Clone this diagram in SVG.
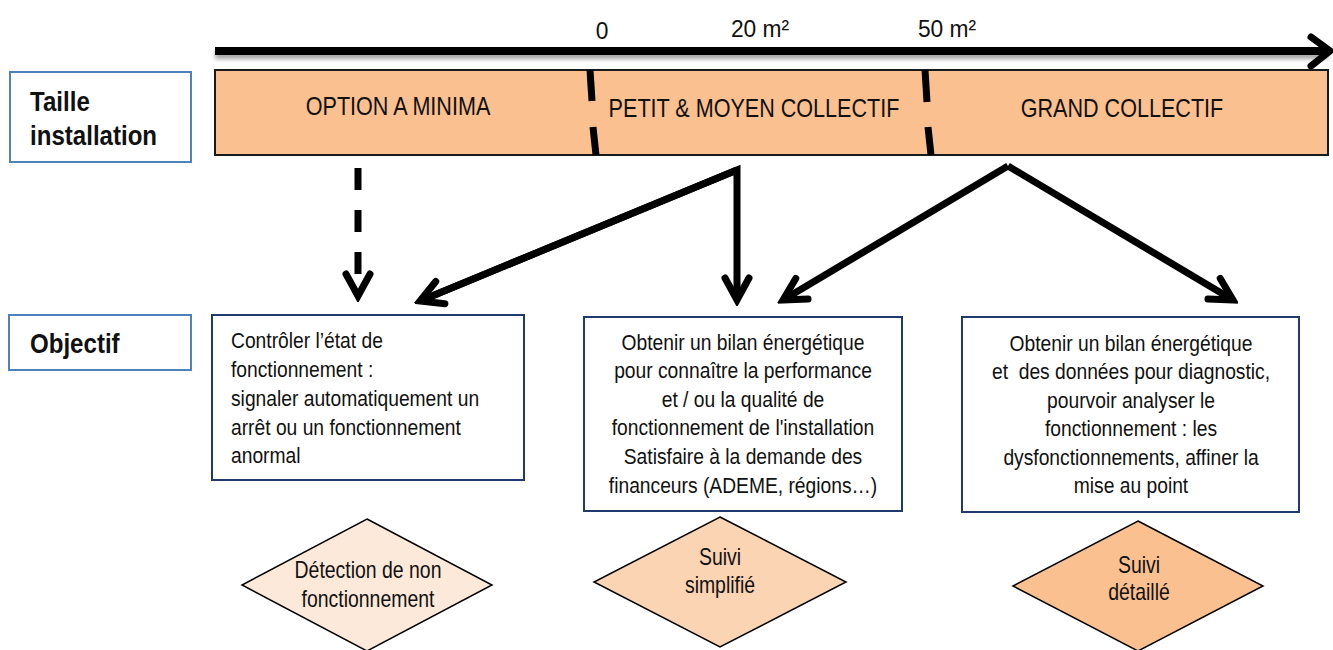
<svg xmlns="http://www.w3.org/2000/svg" width="1333" height="650" viewBox="0 0 1333 650">
<style>
text{font-family:"Liberation Sans",Arial,sans-serif;fill:#111;}
.lbl{font-size:28px;font-weight:bold;}
.band{font-size:26px;}
.scale{font-size:24px;}
.box{font-size:22px;}
.dia{font-size:23px;}
.mid{text-anchor:middle;}
.lblbox{fill:#fff;stroke:#4F81BD;stroke-width:2;}
.obj{fill:#fff;stroke:#1F3A6E;stroke-width:2;}
.conn{fill:none;stroke:#000;stroke-width:7;}
.sep{stroke:#000;stroke-width:7;}
.diamond{stroke:#000;stroke-width:1.5;}
</style>
<defs>
<marker id="chev" markerUnits="userSpaceOnUse" viewBox="-28 -18 34 36" refX="0" refY="0" markerWidth="34" markerHeight="36" orient="auto">
<path d="M-22,-12 L0,0 L-22,12" fill="none" stroke="#000" stroke-width="7" stroke-linecap="round" stroke-linejoin="miter"/>
</marker>
<filter id="sh" filterUnits="userSpaceOnUse" x="200" y="30" width="1133" height="45">
<feDropShadow dx="0" dy="4" stdDeviation="2" flood-color="#000" flood-opacity="0.35"/>
</filter>
</defs>

<g id="axis">
<line x1="215" y1="51" x2="1328" y2="51" stroke="#000" stroke-width="8" filter="url(#sh)"/>
<path d="M1311,37 L1330,51 L1311,66" fill="none" stroke="#000" stroke-width="7" stroke-linecap="round"/>
<text class="scale mid" transform="translate(602,39) scale(.95,1)">0</text>
<text class="scale mid" transform="translate(760,37) scale(.95,1)">20 m²</text>
<text class="scale mid" transform="translate(947,37) scale(.95,1)">50 m²</text>
</g>

<g id="label-taille">
<rect class="lblbox" x="10" y="72" width="181" height="90"/>
<text class="lbl" transform="translate(30,111) scale(.86,1)">Taille</text>
<text class="lbl" transform="translate(30,145) scale(.86,1)">installation</text>
</g>

<g id="label-objectif">
<rect class="lblbox" x="9" y="315" width="182" height="55"/>
<text class="lbl" transform="translate(30,353) scale(.86,1)">Objectif</text>
</g>

<g id="band">
<rect x="215" y="70" width="1113" height="85" fill="#FAC090" stroke="#1a1a1a" stroke-width="2"/>
<line class="sep" x1="590" y1="70" x2="592" y2="101"/>
<line class="sep" x1="593" y1="127" x2="596" y2="155"/>
<line class="sep" x1="925" y1="70" x2="927" y2="102"/>
<line class="sep" x1="928" y1="127" x2="931" y2="155"/>
</g>
<g id="option-a-minima"><text class="band mid" transform="translate(398,115) scale(.83,1)">OPTION A MINIMA</text></g>
<g id="petit-moyen-collectif"><text class="band mid" transform="translate(754,117) scale(.83,1)">PETIT &amp; MOYEN COLLECTIF</text></g>
<g id="grand-collectif"><text class="band mid" transform="translate(1122,117) scale(.83,1)">GRAND COLLECTIF</text></g>

<g id="connectors">
<line class="conn" x1="358" y1="168" x2="358" y2="296" stroke-dasharray="22 20" marker-end="url(#chev)"/>
<polyline class="conn" points="420,301 737,170 737,300" stroke-linejoin="miter" marker-end="url(#chev)"/>
<line class="conn" x1="737" y1="170" x2="420" y2="301" marker-end="url(#chev)"/>
<line class="conn" x1="1008" y1="166" x2="783" y2="300" marker-end="url(#chev)"/>
<line class="conn" x1="1008" y1="166" x2="1233" y2="300" marker-end="url(#chev)"/>
</g>

<g id="obj-minima">
<rect class="obj" x="212" y="315" width="312" height="165"/>
<text class="box" transform="translate(231,348) scale(.875,1)">Contrôler l’état de</text>
<text class="box" transform="translate(231,377) scale(.875,1)">fonctionnement :</text>
<text class="box" transform="translate(231,406) scale(.875,1)">signaler automatiquement un</text>
<text class="box" transform="translate(231,435) scale(.875,1)">arrêt ou un fonctionnement</text>
<text class="box" transform="translate(231,463) scale(.875,1)">anormal</text>
</g>

<g id="obj-petit">
<rect class="obj" x="584" y="317" width="318" height="194"/>
<text class="box mid" transform="translate(743,350) scale(.875,1)">Obtenir un bilan énergétique</text>
<text class="box mid" transform="translate(743,378) scale(.875,1)">pour connaître la performance</text>
<text class="box mid" transform="translate(743,407) scale(.875,1)">et / ou la qualité de</text>
<text class="box mid" transform="translate(743,435) scale(.875,1)">fonctionnement de l'installation</text>
<text class="box mid" transform="translate(743,464) scale(.875,1)">Satisfaire à la demande des</text>
<text class="box mid" transform="translate(743,493) scale(.875,1)">financeurs (ADEME, régions…)</text>
</g>

<g id="obj-grand">
<rect class="obj" x="962" y="317" width="337" height="195"/>
<text class="box mid" transform="translate(1131,351) scale(.875,1)">Obtenir un bilan énergétique</text>
<text class="box mid" transform="translate(1131,379) scale(.875,1)" xml:space="preserve">et  des données pour diagnostic,</text>
<text class="box mid" transform="translate(1131,408) scale(.875,1)">pourvoir analyser le</text>
<text class="box mid" transform="translate(1131,436) scale(.875,1)">fonctionnement : les</text>
<text class="box mid" transform="translate(1131,465) scale(.875,1)">dysfonctionnements, affiner la</text>
<text class="box mid" transform="translate(1131,493) scale(.875,1)">mise au point</text>
</g>

<g id="suivi-detection">
<polygon class="diamond" points="367,519 492,585 367,651 242,585" fill="#FDE9D9"/>
<text class="dia mid" transform="translate(368,578) scale(.845,1)">Détection de non</text>
<text class="dia mid" transform="translate(368,607) scale(.845,1)">fonctionnement</text>
</g>

<g id="suivi-simplifie">
<polygon class="diamond" points="720,517 846,582 720,647 594,582" fill="#FBD4B4"/>
<text class="dia mid" transform="translate(720,565) scale(.845,1)">Suivi</text>
<text class="dia mid" transform="translate(720,593) scale(.845,1)">simplifié</text>
</g>

<g id="suivi-detaille">
<polygon class="diamond" points="1138,521 1263,586 1138,651 1013,586" fill="#FAC090"/>
<text class="dia mid" transform="translate(1139,573) scale(.845,1)">Suivi</text>
<text class="dia mid" transform="translate(1139,600) scale(.845,1)">détaillé</text>
</g>
</svg>
